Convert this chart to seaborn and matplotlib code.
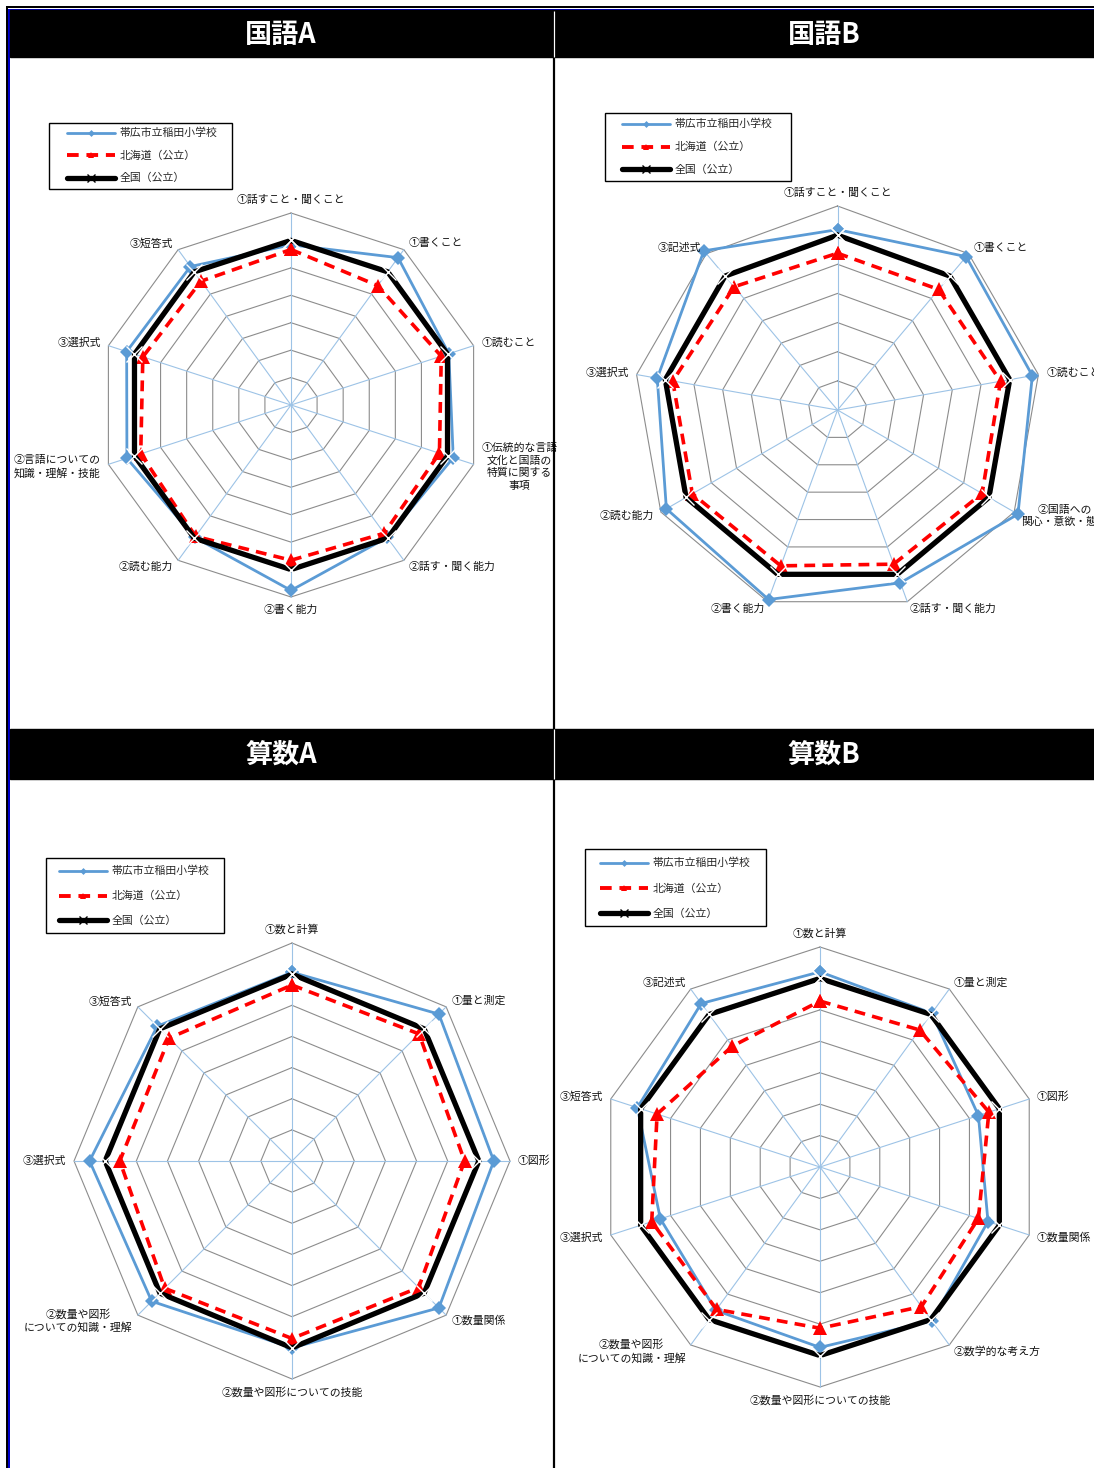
import numpy as np
import matplotlib
matplotlib.use("Agg")
import matplotlib.pyplot as plt
import seaborn as sns
from matplotlib.lines import Line2D
from matplotlib.patches import Rectangle

sns.set_theme(style="white")
plt.rcParams["font.family"] = ["Noto Sans CJK JP", "DejaVu Sans"]

# ---------------- data (national = 100) ----------------
series_names = ["帯広市立稲田小学校", "北海道（公立）", "全国（公立）"]

cats_kokugo_a = ["①話すこと・聞くこと", "①書くこと", "①読むこと",
                 "①伝統的な言語\n文化と国語の\n特質に関する\n事項",
                 "②話す・聞く能力", "②書く能力", "②読む能力",
                 "②言語についての\n知識・理解・技能", "③選択式", "③短答式"]
school_kokugo_a = [98.4, 106.4, 100.5, 102.2, 99.7, 107.6, 99.7, 102.9, 103.0, 102.4]
hokkaido_kokugo_a = [96.7, 93.8, 97.6, 96.9, 97.8, 96.6, 99.2, 97.6, 96.8, 95.8]
national_kokugo_a = [100, 100, 100, 100, 100, 100, 100, 100, 100, 100]

cats_kokugo_b = ["①話すこと・聞くこと", "①書くこと", "①読むこと",
                 "②国語への\n関心・意欲・態度", "②話す・聞く能力", "②書く能力",
                 "②読む能力", "③選択式", "③記述式"]
school_kokugo_b = [101.9, 108.7, 107.9, 111.5, 103.1, 109.2, 107.8, 102.8, 111.3]
hokkaido_kokugo_b = [93.8, 94.0, 96.8, 97.3, 96.3, 96.9, 97.5, 97.4, 95.2]
national_kokugo_b = [100, 100, 100, 100, 100, 100, 100, 100, 100]

cats_sansu_a = ["①数と計算", "①量と測定", "①図形", "①数量関係",
                "②数量や図形についての技能", "②数量や図形\nについての知識・理解",
                "③選択式", "③短答式"]
school_sansu_a = [100.6, 106.7, 104.8, 106.7, 100.0, 103.7, 105.0, 101.2]
hokkaido_sansu_a = [96.5, 97.7, 95.4, 97.5, 97.0, 97.8, 95.3, 95.8]
national_sansu_a = [100, 100, 100, 100, 100, 100, 100, 100]

cats_sansu_b = ["①数と計算", "①量と測定", "①図形", "①数量関係", "②数学的な考え方",
                "②数量や図形についての技能", "②数量や図形\nについての知識・理解",
                "③選択式", "③短答式", "③記述式"]
school_sansu_b = [102.1, 100.5, 93.0, 96.2, 100.5, 97.4, 96.4, 93.4, 101.1, 104.3]
hokkaido_sansu_b = [92.8, 93.9, 96.5, 93.0, 94.9, 91.3, 96.0, 96.3, 94.5, 87.5]
national_sansu_b = [100, 100, 100, 100, 100, 100, 100, 100, 100, 100]

titles = ["国語A", "国語B", "算数A", "算数B"]
scale_ticks = [40, 50, 60, 70, 80, 90, 100, 110]

# ---------------- layout (pixels) ----------------
W, H = 1094, 1468
fig = plt.figure(figsize=(W / 100, H / 100), dpi=100)
fig.patch.set_facecolor("white")

def fx(x):
    return x / W

def fy(y):
    return 1 - y / H

# leg = frame box (x0, y0, x1, y1); lh = (handle x start, first row centre y, row spacing)
panels = [
    dict(cats=cats_kokugo_a, data=(school_kokugo_a, hokkaido_kokugo_a, national_kokugo_a),
         tx=281, ty=35, cx=291, cy=405, R=192, leg=(49, 123, 232, 189), lh=(67, 133, 22.6)),
    dict(cats=cats_kokugo_b, data=(school_kokugo_b, hokkaido_kokugo_b, national_kokugo_b),
         tx=824, ty=35, cx=837.5, cy=410, R=204, leg=(605, 113, 791, 181), lh=(622, 124, 23)),
    dict(cats=cats_sansu_a, data=(school_sansu_a, hokkaido_sansu_a, national_sansu_a),
         tx=281, ty=755, cx=292, cy=1161, R=218, leg=(46, 858, 224, 933), lh=(59, 871, 25)),
    dict(cats=cats_sansu_b, data=(school_sansu_b, hokkaido_sansu_b, national_sansu_b),
         tx=824, ty=755, cx=820, cy=1167, R=220, leg=(585, 849, 766, 926), lh=(600, 863, 25.5)),
]

BLUE = "#5B9BD5"
RED = "#FF0000"
BLACK = "#000000"
RING = "#8C8C8C"
SPOKE = "#9DC3E6"
RMIN, RMAX_GRID, RMAX_AX = scale_ticks[0], scale_ticks[-1], 118
FS = 7.8
FS_PX = FS * 100 / 72
TEXT_H = 10.4

styles = [
    dict(color=BLUE, lw=2.0, marker="D", markersize=7, markeredgewidth=0, linestyle="-"),
    dict(color=RED, lw=2.6, marker="^", markersize=9.5, markeredgewidth=0, linestyle=(0, (3, 2))),
    dict(color=BLACK, lw=3.8, marker="x", markersize=12, markeredgewidth=1.0, linestyle="-"),
]
leg_styles = [
    dict(color=BLUE, lw=2.0, marker="D", markersize=3.5, markeredgewidth=0, linestyle="-"),
    dict(color=RED, lw=2.8, marker="^", markersize=5, markeredgewidth=0, linestyle=(0, (3, 2))),
    dict(color=BLACK, lw=3.8, marker="x", markersize=6, markeredgewidth=1.0, linestyle="-"),
]

for i, p in enumerate(panels):
    n = len(p["cats"])
    theta = np.linspace(0, 2 * np.pi, n, endpoint=False)
    theta_c = np.append(theta, 2 * np.pi)
    Ra = p["R"] * (RMAX_AX - RMIN) / (RMAX_GRID - RMIN)
    ax = fig.add_axes([fx(p["cx"] - Ra), fy(p["cy"] + Ra), 2 * Ra / W, 2 * Ra / H],
                      projection="polar")
    ax.set_facecolor("none")
    ax.set_theta_zero_location("N")
    ax.set_theta_direction(-1)
    ax.set_ylim(RMIN, RMAX_AX)
    ax.grid(False)
    ax.spines["polar"].set_visible(False)
    ax.set_xticks([])
    ax.set_yticks([])

    # polygon rings and spokes
    for lvl in scale_ticks[1:]:
        ax.plot(theta_c, [lvl] * (n + 1), color=RING, lw=0.8, zorder=1)
    for th in theta:
        ax.plot([th, th], [RMIN, RMAX_GRID], color=SPOKE, lw=0.8, zorder=1)

    # data series
    for vals, st in zip(p["data"], styles):
        v = list(vals) + [vals[0]]
        sns.lineplot(x=theta_c, y=v, ax=ax, sort=False, estimator=None, legend=False,
                     zorder=3, **st)
    ax.set_xlabel("")
    ax.set_ylabel("")

    # category labels
    pad = 8
    for k, lab in enumerate(p["cats"]):
        th = theta[k]
        s, c = np.sin(th), np.cos(th)
        ha = "center" if abs(s) < 0.1 else ("left" if s > 0 else "right")
        va = "bottom" if c > 0.95 else ("top" if c < -0.95 else "center")
        ax.annotate(lab, xy=(th, RMAX_GRID), xytext=(pad * s, pad * c),
                    textcoords="offset pixels", ha=ha, va=va, fontsize=FS,
                    multialignment="center", linespacing=1.3,
                    annotation_clip=False, color="#111111")

    # legend: frame box + entries
    x0, y0, x1, y1 = p["leg"]
    fig.add_artist(Rectangle((fx(x0), fy(y1)), (x1 - x0) / W, (y1 - y0) / H,
                             transform=fig.transFigure, fill=False, edgecolor="black",
                             lw=1.0, zorder=5))
    hx, r1, rs = p["lh"]
    handles = [Line2D([0], [0], **st) for st in leg_styles]
    fig.legend(handles, series_names, loc="upper left",
               bbox_to_anchor=(fx(hx), fy(r1 - TEXT_H / 2)),
               fontsize=FS, handlelength=4.4, handletextpad=0.45,
               labelspacing=(rs - TEXT_H) / FS_PX, borderpad=0, borderaxespad=0,
               frameon=False)

# ---------------- frame, title bars, divider ----------------
def vline(x, y0, y1, color, lw_px, z=10):
    fig.add_artist(Line2D([fx(x), fx(x)], [fy(y0), fy(y1)], transform=fig.transFigure,
                          color=color, lw=lw_px * 0.72, solid_capstyle="butt", zorder=z))

def hline(y, x0, x1, color, lw_px, z=10):
    fig.add_artist(Line2D([fx(x0), fx(x1)], [fy(y), fy(y)], transform=fig.transFigure,
                          color=color, lw=lw_px * 0.72, solid_capstyle="butt", zorder=z))

# divider
vline(553.5, 10, H, "black", 2.2)
# title bars
for ytop, ybot in [(10.5, 57), (729, 779)]:
    fig.add_artist(Rectangle((fx(10), fy(ybot)), (W - 10) / W, (ybot - ytop) / H,
                             transform=fig.transFigure, color="black", zorder=11))
    vline(553.5, ytop, ybot, "white", 1.2, z=12)
for t, p in zip(titles, panels):
    fig.text(fx(p["tx"]), fy(p["ty"]), t, color="white", fontsize=19.5, fontweight="bold",
             ha="center", va="center", zorder=13)

# outer border (black then blue)
vline(7, 6, H, "black", 2)
hline(7, 6, W, "black", 2)
vline(9, 9, H, "#0000CC", 2)
hline(9.8, 8, W, "#0000CC", 2)

fig.savefig("out.png", dpi=100, facecolor="white")
